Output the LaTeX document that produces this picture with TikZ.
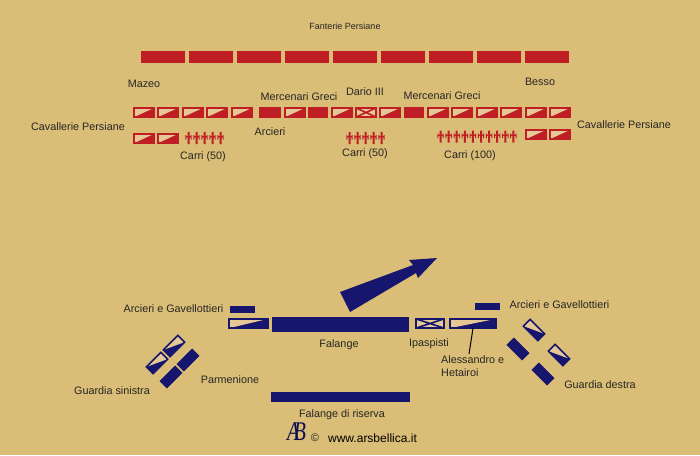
\documentclass[tikz,border=0pt]{standalone}
\usepackage{fontspec}
\setmainfont{Liberation Sans}
\newfontfamily\logofont{Liberation Serif}
\usetikzlibrary{positioning}
\definecolor{sabbia}{HTML}{DABD76}
\definecolor{pallido}{HTML}{E6C796}
\definecolor{rosso}{HTML}{BE1E24}
\definecolor{blu}{HTML}{16166E}

\begin{document}
\begin{tikzpicture}[
      x=1pt, y=-1pt,
      testo/.style={inner sep=0pt, yshift=-1pt, text=black!85, font=\fontsize{10.8}{13.5}\selectfont, align=left},
      sol/.style={rectangle, inner sep=0pt, outer sep=0pt, fill=#1, minimum width=22pt, minimum height=11pt},
      cav/.style={rectangle, inner sep=0pt, outer sep=0pt, draw=#1, fill=#1, line width=1.6pt, minimum width=20.4pt, minimum height=9.4pt,
        path picture={\fill[pallido] (path picture bounding box.north west) -- (path picture bounding box.north east) -- (path picture bounding box.south west) -- cycle;}},
      cross/.style={rectangle, inner sep=0pt, outer sep=0pt, draw=#1, fill=pallido, line width=1.6pt, minimum width=20.4pt, minimum height=9.4pt,
        path picture={\draw[#1, line width=1.6pt] (path picture bounding box.north west) -- (path picture bounding box.south east) (path picture bounding box.north east) -- (path picture bounding box.south west);}},
      guardia/.style={rectangle, inner sep=0pt, outer sep=0pt, fill=blu, minimum width=20.4pt, minimum height=9.4pt},
      carro/.pic={
        \fill[rosso] (-1,-6) rectangle (1,6) (-3.2,-1.8) rectangle (3.2,-0.6) (-3.2,-3) rectangle (-2.2,1.5) (2.2,-3) rectangle (3.2,1.5);
      }
    ]
    \useasboundingbox[fill=sabbia] (0,0) rectangle (700,455);

    \node[sol=rosso, minimum width=44pt, minimum height=12pt] (fant1) at (163,57) {};
    \foreach \i [remember=\i as \j (initially 1)] in {2,...,9}
      \node[sol=rosso, minimum width=44pt, minimum height=12pt, right=4pt of fant\j] (fant\i) {};
    \node[testo, font=\fontsize{9}{11}\selectfont] (fanterie) at (345,25) {Fanterie Persiane};

    \foreach \x [count=\i] in {144,168,193,217,242,295,342,390,438,462,487,511,536,560}
      \node[cav=rosso] (ala\i) at (\x,112.5) {};
    \node[sol=rosso] (arc1) at (270,112.5) {};
    \node[sol=rosso, minimum width=20pt] (arc2) at (318,112.5) {};
    \node[sol=rosso, minimum width=20pt] (arc3) at (414,112.5) {};
    \node[cross=rosso] (dario) at (366,112.5) {};

    \node[cav=rosso] (sin1) at (144,138.5) {};
    \node[cav=rosso, right=3.6pt of sin1] (sin2) {};
    \node[cav=rosso] (des1) at (536,134.5) {};
    \node[cav=rosso, right=3.6pt of des1] (des2) {};

    \foreach \x in {188.5,196.5,204.5,212.5,220.5,349.5,357.5,365.5,373.5,381.5}
      \pic at (\x,138) {carro};
    \foreach \x in {440.5,448.6,456.7,464.8,472.9,481,489.1,497.2,505.3,513.4}
      \pic at (\x,136.5) {carro};

    \node[testo] (mazeo) at (144,83) {Mazeo};
    \node[testo] (merc1) at (299,96) {Mercenari Greci};
    \node[testo] (darioT) at (365,91) {Dario III};
    \node[testo] (merc2) at (442,95) {Mercenari Greci};
    \node[testo] (besso) at (540,81) {Besso};
    \node[testo] (cavS) at (78,126) {Cavallerie Persiane};
    \node[testo] (cavD) at (624,124) {Cavallerie Persiane};
    \node[testo] (arcieri) at (270,131) {Arcieri};
    \node[testo] (carri1) at (203,156) {Carri (50)};
    \node[testo] (carri2) at (365,153) {Carri (50)};
    \node[testo] (carri3) at (470,155) {Carri (100)};

    \fill[blu] (340,292) -- (413,265) -- (409,260) -- (437,258) -- (418,278) -- (416,273) -- (350,312) -- cycle;

    \node[sol=blu, minimum width=25pt, minimum height=7pt] (gav1) at (242.5,309.5) {};
    \node[sol=blu, minimum width=25pt, minimum height=7pt] (gav2) at (487.5,306.5) {};
    \node[cav=blu, minimum width=39.4pt] (caval1) at (248.5,323.5) {};
    \node[sol=blu, minimum width=137pt, minimum height=15pt] (falange) at (340.5,324.5) {};
    \node[cross=blu, minimum width=28.4pt] (ipasp) at (430,323.5) {};
    \node[cav=blu, minimum width=46.4pt] (aless) at (473,323.5) {};
    \node[sol=blu, minimum width=139pt, minimum height=10pt] (riserva) at (340.5,397) {};

    \node[guardia, rotate=225] (gs1) at (174,346) {};
    \node[guardia, rotate=225] (gs2) at (157,363) {};
    \node[sol=blu, rotate=45, minimum height=10.5pt] (gs3) at (188,360) {};
    \node[sol=blu, rotate=45, minimum height=10.5pt] (gs4) at (171,377) {};
    \node[guardia, rotate=-45] (gd1) at (534,330) {};
    \node[guardia, rotate=-45] (gd2) at (559,355) {};
    \node[sol=blu, rotate=-45, minimum height=10.5pt] (gd3) at (518,349) {};
    \node[sol=blu, rotate=-45, minimum height=10.5pt] (gd4) at (543,374) {};
    \foreach \n in {gd1,gd2} {
      \fill[pallido] (\n.north west) -- (\n.north east) -- (\n.south west) -- cycle;
      \draw[blu, line width=1.6pt] (\n.north west) -- (\n.north east) -- (\n.south east) -- (\n.south west) -- cycle;
    }
    \foreach \n in {gs1,gs2} {
      \fill[pallido] (\n.north west) -- (\n.south west) -- (\n.south east) -- cycle;
      \draw[blu, line width=1.6pt] (\n.north west) -- (\n.north east) -- (\n.south east) -- (\n.south west) -- cycle;
    }

    \node[testo] (arcgav1) at (173.5,308) {Arcieri e Gavellottieri};
    \node[testo] (arcgav2) at (559.5,304) {Arcieri e Gavellottieri};
    \node[testo] (falT) at (339,344) {Falange};
    \node[testo] (ipT) at (429,343) {Ipaspisti};
    \node[testo, anchor=west] (alT) at (441,365) {Alessandro e\\Hetairoi};
    \node[testo] (gsT) at (112,390) {Guardia sinistra};
    \node[testo] (parm) at (230,379) {Parmenione};
    \node[testo] (gdT) at (600,384) {Guardia destra};
    \node[testo] (risT) at (342,414) {Falange di riserva};

    \coordinate (alCapo) at (469,354);
    \draw[black, line width=1pt] (aless.south) -- (alCapo);

    \node[inner sep=0pt, text=blu!70!black, font=\logofont\itshape\fontsize{27}{27}\selectfont, xscale=0.75] (logo) at (296.5,432) {A\kern-8pt B};
    \node[testo, font=\fontsize{11}{13}\selectfont] (copyr) at (315,437) {©};
    \node[testo, text=black, font=\fontsize{12}{14}\selectfont] (sito) at (372.5,437) {www.arsbellica.it};
  \end{tikzpicture}
\end{document}
